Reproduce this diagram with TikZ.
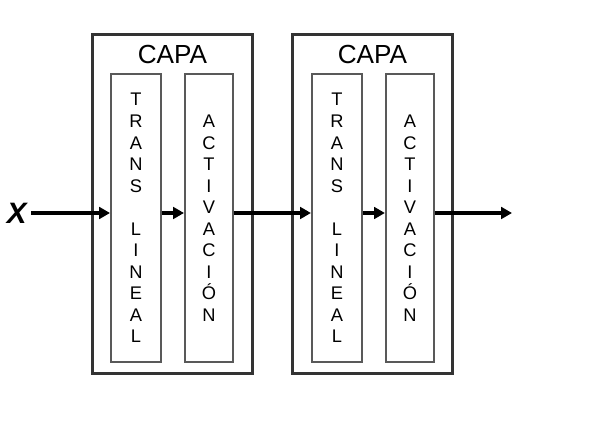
\documentclass[tikz,border=0pt]{standalone}
\usepackage{fontspec}
\setmainfont{Liberation Sans}
\usepackage{tikz}
\usetikzlibrary{arrows.meta, positioning}

\begin{document}
\begin{tikzpicture}[
  capabox/.style={rectangle, draw=black!80, line width=2.1pt, fill=white,
                  minimum width=4.0cm, minimum height=8.475cm, inner sep=0pt},
  opbox/.style={rectangle, draw=black!65, line width=1.4pt, fill=white,
                minimum width=1.25cm, minimum height=7.2cm, inner sep=0pt,
                align=center, font=\fontsize{13pt}{15.3pt}\selectfont},
  title/.style={font=\fontsize{18.6pt}{20pt}\selectfont, anchor=base, inner sep=0pt},
  arrow/.style={-{Triangle[length=0.27cm, width=0.29cm]}, line width=2.4pt, color=black}
]
\useasboundingbox (0,0) rectangle (15,-10.6);

\node[capabox] (capa1) at (4.3125,-5.1) {};
\node[capabox, right=0.925cm of capa1] (capa2) {};
\node[title] (capa1t) at ([yshift=-0.75cm]capa1.north) {CAPA};
\node[title] (capa2t) at ([yshift=-0.75cm]capa2.north) {CAPA};

\node[opbox] (trans1) at (3.4,-5.45) {T\\R\\A\\N\\S\\[15.3pt]L\\I\\N\\E\\A\\L};
\node[opbox, minimum width=1.2cm, right=0.55cm of trans1] (act1) {A\\C\\T\\I\\V\\A\\C\\I\\Ó\\N};
\node[opbox, right=1.925cm of act1] (trans2) {T\\R\\A\\N\\S\\[15.3pt]L\\I\\N\\E\\A\\L};
\node[opbox, minimum width=1.2cm, right=0.55cm of trans2] (act2) {A\\C\\T\\I\\V\\A\\C\\I\\Ó\\N};

\node[font=\fontsize{21pt}{24pt}\selectfont\bfseries\itshape, inner sep=3pt] (xin) at (0.42,-5.325) {X};
\coordinate (out) at (12.8,-5.325);

\draw[arrow] (xin.east) -- (trans1.west |- xin.east);
\draw[arrow] (trans1.east |- xin.east) -- (act1.west |- xin.east);
\draw[arrow] (act1.east |- xin.east) -- (trans2.west |- xin.east);
\draw[arrow] (trans2.east |- xin.east) -- (act2.west |- xin.east);
\draw[arrow] (act2.east |- xin.east) -- (out);
\end{tikzpicture}
\end{document}
